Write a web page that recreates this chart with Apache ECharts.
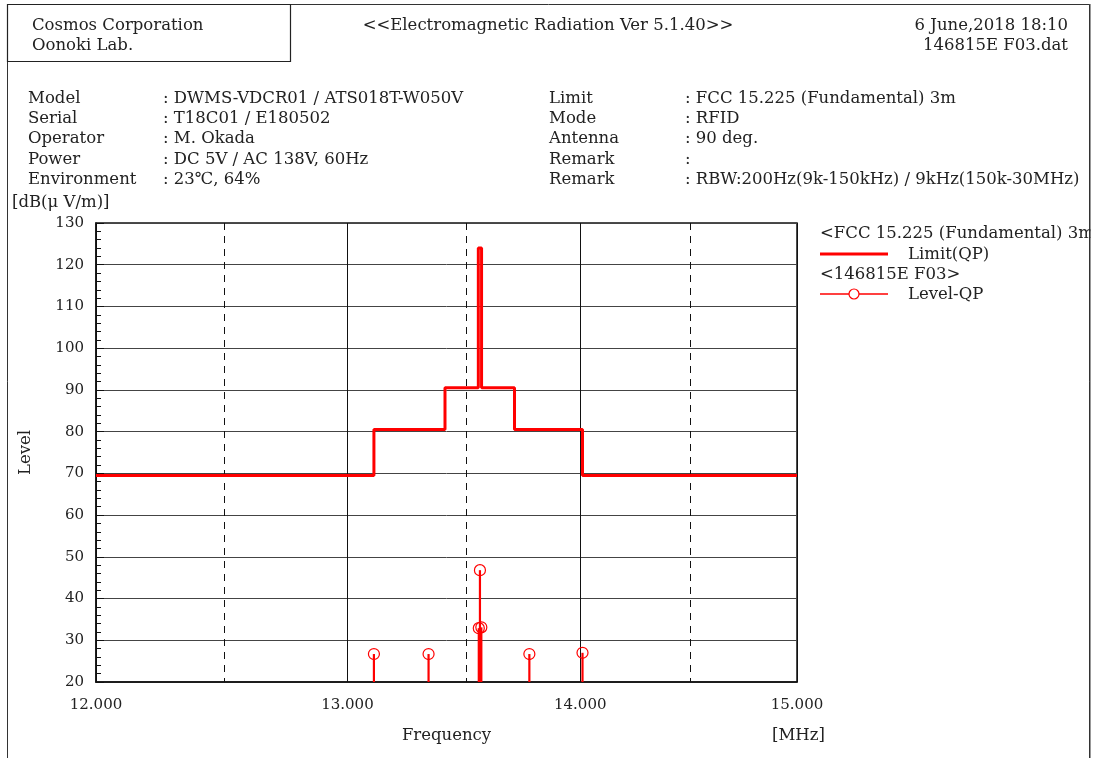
<!DOCTYPE html>
<html><head><meta charset="utf-8">
<script src="https://cdn.jsdelivr.net/npm/echarts@6/dist/echarts.min.js"></script>
<style>html,body{margin:0;padding:0;background:#fff}#c{width:1099px;height:758px}</style>
</head><body><div id="c"></div>
<script>
// ---- data ----
const limitFreq  = [12.0, 13.11, 13.41, 13.553, 13.567, 13.71, 14.01, 15.0];
const limitLevel = [69.5, 80.5, 90.5, 124.0, 90.5, 80.5, 69.5, 69.5];
const qpFreq  = [13.11, 13.34, 13.555, 13.56, 13.566, 13.775, 14.01];
const qpLevel = [26.7, 26.7, 32.9, 46.8, 33.1, 26.7, 27.0];
const xLabelTicks = [12, 13, 14, 15];
const xDashedGrid = [12.5, 13.5, 14.5];
const yMin = 20, yMax = 130, yStep = 10;
const infoLeft = [
  ['Model', ': DWMS-VDCR01 / ATS018T-W050V'],
  ['Serial', ': T18C01 / E180502'],
  ['Operator', ': M. Okada'],
  ['Power', ': DC 5V / AC 138V, 60Hz'],
  ['Environment', ': 23\u2103, 64%']
];
const infoRight = [
  ['Limit', ': FCC 15.225 (Fundamental) 3m'],
  ['Mode', ': RFID'],
  ['Antenna', ': 90 deg.'],
  ['Remark', ':'],
  ['Remark', ': RBW:200Hz(9k-150kHz) / 9kHz(150k-30MHz)']
];

const FONT = '"DejaVu Serif", serif';
const TC = '#222';
const lg = Math.log10;

const chart = echarts.init(document.getElementById('c'));

function txt(x, y, s, opts) {
  return Object.assign({
    type: 'text', left: x, top: y, silent: true,
    style: { text: s, font: '16.5px ' + FONT, fill: TC }
  }, opts || {});
}
const graphics = [];
// frames
graphics.push({ type: 'rect', shape: { x: 7.5, y: 4.5, width: 1082, height: 760 }, style: { fill: 'none', stroke: '#333', lineWidth: 1 }, silent: true, z: -1 });
graphics.push({ type: 'rect', shape: { x: 7.5, y: 4.5, width: 283, height: 57 }, style: { fill: 'none', stroke: '#222', lineWidth: 1.2 }, silent: true });
graphics.push(txt(32, 17, 'Cosmos Corporation'));
graphics.push(txt(32, 37, 'Oonoki Lab.'));
graphics.push({ type: 'text', x: 548, y: 17, silent: true, style: { text: '<<Electromagnetic Radiation Ver 5.1.40>>', font: '16.5px ' + FONT, fill: TC, align: 'center' } });
graphics.push({ type: 'text', x: 1068, y: 17, silent: true, style: { text: '6 June,2018 18:10', font: '16.5px ' + FONT, fill: TC, align: 'right' } });
graphics.push({ type: 'text', x: 1068, y: 37, silent: true, style: { text: '146815E F03.dat', font: '16.5px ' + FONT, fill: TC, align: 'right' } });
infoLeft.forEach((r, i) => {
  graphics.push(txt(28, 90 + i * 20.3, r[0]));
  graphics.push(txt(163, 90 + i * 20.3, r[1]));
});
infoRight.forEach((r, i) => {
  graphics.push(txt(549, 90 + i * 20.3, r[0]));
  graphics.push(txt(685, 90 + i * 20.3, r[1]));
});
graphics.push(txt(12, 194, '[dB(\u03bc V/m)]'));
graphics.push(txt(772, 727, '[MHz]'));
// legend
graphics.push(txt(820, 225, '<FCC 15.225 (Fundamental) 3m>'));
graphics.push({ type: 'line', shape: { x1: 820, y1: 254, x2: 888, y2: 254 }, style: { stroke: '#ff0000', lineWidth: 3 }, silent: true });
graphics.push(txt(908, 246, 'Limit(QP)'));
graphics.push(txt(820, 266, '<146815E F03>'));
graphics.push({ type: 'line', shape: { x1: 820, y1: 294, x2: 888, y2: 294 }, style: { stroke: '#ff0000', lineWidth: 1.5 }, silent: true });
graphics.push({ type: 'circle', shape: { cx: 854, cy: 294, r: 5 }, style: { fill: '#fff', stroke: '#ff0000', lineWidth: 1.2 }, silent: true });
graphics.push(txt(908, 286, 'Level-QP'));
// white cover to clip legend text at the right frame
graphics.push({ type: 'rect', shape: { x: 1090.5, y: 210, width: 20, height: 40 }, style: { fill: '#fff' }, silent: true, z: 100 });
graphics.push({ type: 'line', shape: { x1: 1090, y1: 4, x2: 1090, y2: 758 }, style: { stroke: '#333', lineWidth: 1 }, silent: true, z: 101 });

const limitData = limitFreq.map((f, i) => [lg(f), limitLevel[i]]);
const qpData = qpFreq.map((f, i) => [lg(f), qpLevel[i]]);

chart.setOption({
  animation: false,
  backgroundColor: '#fff',
  textStyle: { fontFamily: FONT, color: TC },
  grid: { left: 96, right: 302, top: 223, bottom: 76, show: true, borderColor: '#111', borderWidth: 1.5, backgroundColor: 'transparent' },
  xAxis: [{
    type: 'value', min: lg(12), max: lg(15),
    name: 'Frequency', nameLocation: 'middle', nameGap: 45,
    nameTextStyle: { fontFamily: FONT, fontSize: 16.5, color: TC },
    axisLine: { show: true, lineStyle: { color: '#111', width: 1.5 } },
    axisTick: { show: false, customValues: xLabelTicks.map(lg) },
    axisLabel: { customValues: xLabelTicks.map(lg), formatter: v => Math.pow(10, v).toFixed(3), fontFamily: FONT, fontSize: 15, color: TC, margin: 16 },
    splitLine: { show: true, lineStyle: { color: '#111', width: 1, type: 'solid' } }
  }, {
    type: 'value', min: lg(12), max: lg(15), position: 'bottom',
    axisLine: { show: false }, axisLabel: { show: false },
    axisTick: { show: false, customValues: xDashedGrid.map(lg) },
    splitLine: { show: true, lineStyle: { color: '#111', width: 1, type: [7, 6] } }
  }],
  yAxis: {
    type: 'value', min: yMin, max: yMax, interval: yStep,
    name: 'Level', nameLocation: 'middle', nameGap: 62, nameRotate: 90,
    nameTextStyle: { fontFamily: FONT, fontSize: 16.5, color: TC },
    axisLine: { show: true, lineStyle: { color: '#111', width: 1.5 } },
    axisTick: { show: true, inside: true, length: 8, lineStyle: { color: '#111' } },
    minorTick: { show: true, splitNumber: 5, length: 5, lineStyle: { color: '#111' } },
    axisLabel: { fontFamily: FONT, fontSize: 15, color: TC, margin: 12 },
    splitLine: { show: true, lineStyle: { color: '#444', width: 1 } }
  },
  graphic: graphics,
  series: [{
    name: 'Limit(QP)', type: 'line', step: 'end', data: limitData,
    showSymbol: false, symbol: 'none',
    lineStyle: { color: '#ff0000', width: 3 }, z: 3
  }, {
    name: 'Level-QP', type: 'custom', data: qpData, z: 4,
    renderItem: function (params, api) {
      const x = api.value(0), v = api.value(1);
      const p0 = api.coord([x, yMin]);
      const p1 = api.coord([x, v]);
      return {
        type: 'group', children: [
          { type: 'line', shape: { x1: p0[0], y1: p0[1], x2: p1[0], y2: p1[1] }, style: { stroke: '#ff0000', lineWidth: 2.2 } },
          { type: 'circle', shape: { cx: p1[0], cy: p1[1], r: 5.5 }, style: { fill: 'none', stroke: '#ff0000', lineWidth: 1.2 } }
        ]
      };
    }
  }]
});
</script></body></html>
